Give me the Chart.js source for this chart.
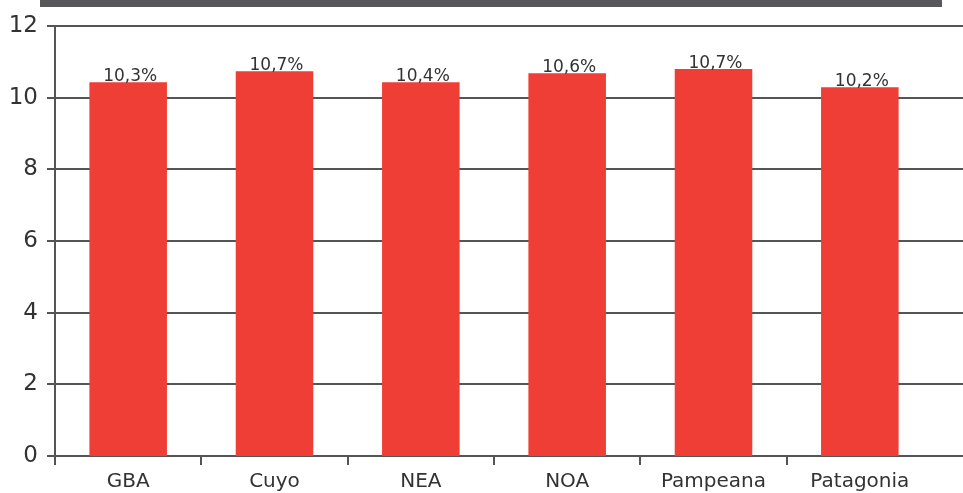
<!DOCTYPE html>
<html>
<head>
<meta charset="utf-8">
<script src="https://cdn.jsdelivr.net/npm/chart.js@4.4.1/dist/chart.umd.min.js"></script>
<style>
  html, body { margin: 0; padding: 0; background: #fff; }
  #wrap { position: relative; width: 963px; height: 493px; }
  #topbar { position: absolute; left: 40px; top: 0; width: 902px; height: 7px; background: #58585a; }
</style>
</head>
<body>
<div id="wrap">
  <canvas id="grafico" width="963" height="493"></canvas>
  <div id="topbar"></div>
</div>
<script>
// Regiones y valores
const regiones = ["GBA", "Cuyo", "NEA", "NOA", "Pampeana", "Patagonia"];
const valores = [10.43, 10.74, 10.43, 10.68, 10.8, 10.29];
const etiquetas = ["10,3%", "10,7%", "10,4%", "10,6%", "10,7%", "10,2%"];
const ticksY = [0, 2, 4, 6, 8, 10, 12];

const fuente = "'DejaVu Sans', sans-serif";

// Líneas horizontales hasta el borde derecho
const lineasGrilla = {
  id: "lineasGrilla",
  beforeDatasetsDraw(chart) {
    const { ctx, chartArea, scales } = chart;
    ctx.save();
    ctx.strokeStyle = "#555557";
    ctx.lineWidth = 2;
    ticksY.forEach(v => {
      const y = Math.round(scales.y.getPixelForValue(v));
      ctx.beginPath();
      ctx.moveTo(chartArea.left - 8, y);
      ctx.lineTo(chart.width, y);
      ctx.stroke();
    });
    ctx.restore();
  }
};

// Etiquetas sobre las barras
const etiquetasBarras = {
  id: "etiquetasBarras",
  afterDatasetsDraw(chart) {
    const { ctx } = chart;
    const meta = chart.getDatasetMeta(0);
    ctx.save();
    ctx.font = "17px " + fuente;
    ctx.fillStyle = "#333";
    ctx.textAlign = "center";
    ctx.textBaseline = "alphabetic";
    meta.data.forEach((bar, i) => {
      ctx.fillText(etiquetas[i], bar.x + 2, bar.y - 1);
    });
    ctx.restore();
  }
};

new Chart(document.getElementById("grafico"), {
  type: "bar",
  data: {
    labels: regiones,
    datasets: [{
      data: valores,
      backgroundColor: "#ef3e36",
      barPercentage: 0.53,
      categoryPercentage: 1
    }]
  },
  options: {
    responsive: false,
    animation: false,
    layout: { padding: { top: 26, right: 30, left: 0, bottom: 0 } },
    plugins: { legend: { display: false }, tooltip: { enabled: false } },
    scales: {
      y: {
        min: 0,
        max: 12,
        afterBuildTicks(axis) { axis.ticks = ticksY.map(v => ({ value: v })); },
        afterFit(axis) { axis.width = 55; },
        grid: { display: false },
        border: { display: true, color: "#555557", width: 2 },
        ticks: { color: "#333", padding: 9, font: { family: fuente, size: 23 } }
      },
      x: {
        afterFit(axis) { axis.height = 37; },
        grid: {
          offset: true,
          drawOnChartArea: false,
          drawTicks: true,
          tickLength: 9,
          // sin marca al final del eje
          color: c => c.type === "tick" ? "#555557" : "rgba(0,0,0,0)",
          lineWidth: 2
        },
        border: { display: true, color: "#555557", width: 2 },
        ticks: { color: "#333", padding: 5, font: { family: fuente, size: 20 } }
      }
    }
  },
  plugins: [lineasGrilla, etiquetasBarras]
});
</script>
</body>
</html>
